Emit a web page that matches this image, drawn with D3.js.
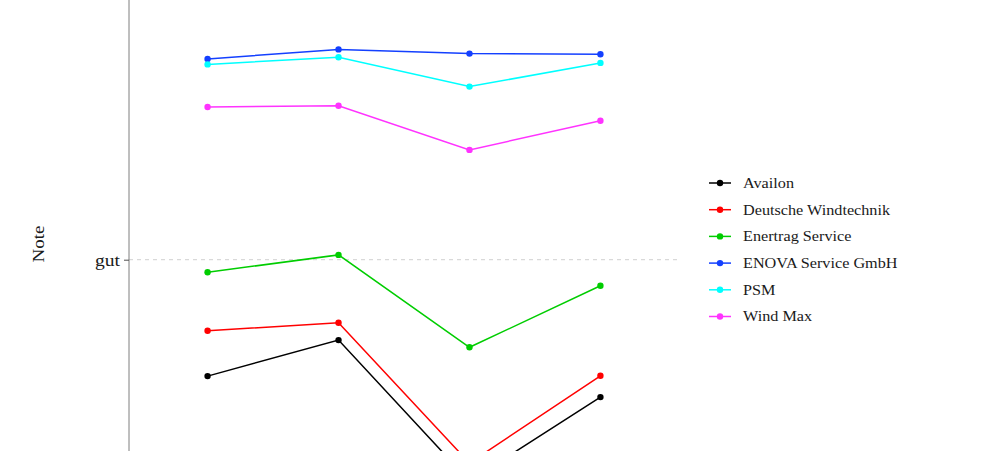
<!DOCTYPE html>
<html>
<head>
<meta charset="utf-8">
<script src="https://cdn.jsdelivr.net/npm/d3@7"></script>
<style>
  body { margin: 0; background: #fff; }
  svg { display: block; font-family: 'Liberation Serif', serif; }
</style>
</head>
<body>
<svg id="chart" width="988" height="451"></svg>
<script>
// Grades (2 = gut), lower is better
const rounds = ['Runde 1', 'Runde 2', 'Runde 3', 'Runde 4'];
const companies = ['Availon', 'Deutsche Windtechnik', 'Enertrag Service', 'ENOVA Service GmbH', 'PSM', 'Wind Max'];
const colors = ['#000000', '#FF0000', '#00CD00', '#1440FF', '#00FFFF', '#FF33FF'];
const gradeTicks = [2];
const gradeLabels = ['gut'];

const availon = [2.388, 2.268, 2.738, 2.458];
const deutscheWindtechnik = [2.237, 2.21, 2.678, 2.387];
const enertrag = [2.042, 1.984, 2.292, 2.087];
const enova = [1.331, 1.299, 1.313, 1.315];
const psm = [1.349, 1.325, 1.423, 1.344];
const windMax = [1.491, 1.487, 1.634, 1.537];

const seriesValues = [availon, deutscheWindtechnik, enertrag, enova, psm, windMax];

const svg = d3.select('#chart');

const x = d3.scalePoint().domain(rounds).range([129, 679]).padding(0.6);
const y = d3.scaleLinear().domain([1, 2]).range([-40.3, 259.7]);

// dashed grid line
svg.append('g')
  .selectAll('line')
  .data(gradeTicks)
  .join('line')
  .attr('x1', 129)
  .attr('x2', 679)
  .attr('y1', (d) => y(d))
  .attr('y2', (d) => y(d))
  .attr('stroke', '#d0d0d0')
  .attr('stroke-width', 1)
  .attr('stroke-dasharray', '4,4');

// y axis
const yAxis = d3.axisLeft(y)
  .tickValues(gradeTicks)
  .tickFormat((d, i) => gradeLabels[i])
  .tickSize(5)
  .tickSizeOuter(0);

const gy = svg.append('g').attr('transform', 'translate(129,0)').call(yAxis);
gy.select('.domain').attr('stroke', '#7f7f7f').attr('d', 'M0,-10V470');
gy.selectAll('.tick line').attr('stroke', '#4d4d4d');
gy.selectAll('.tick text')
  .attr('font-family', 'Liberation Serif, serif')
  .attr('font-size', 17)
  .attr('fill', '#1a1a1a')
  .attr('x', -9)
  .attr('textLength', 25)
  .attr('lengthAdjust', 'spacingAndGlyphs');

svg.append('text')
  .attr('transform', 'translate(44,244) rotate(-90)')
  .attr('text-anchor', 'middle')
  .attr('font-size', 17)
  .attr('fill', '#1a1a1a')
  .attr('textLength', 37)
  .attr('lengthAdjust', 'spacingAndGlyphs')
  .text('Note');

// lines and points
const line = d3.line().x((d, i) => x(rounds[i])).y((d) => y(d));

const groups = svg.append('g')
  .selectAll('g')
  .data(seriesValues)
  .join('g');

groups.append('path')
  .attr('d', (d) => line(d))
  .attr('fill', 'none')
  .attr('stroke', (d, i) => colors[i])
  .attr('stroke-width', 1.5);

groups.each(function (vals, i) {
  d3.select(this)
    .selectAll('circle')
    .data(vals)
    .join('circle')
    .attr('cx', (d, j) => x(rounds[j]))
    .attr('cy', (d) => y(d))
    .attr('r', 3.2)
    .attr('fill', colors[i]);
});

// legend
const legendY = d3.scalePoint().domain(companies).range([183, 316.5]);
const legend = svg.append('g')
  .selectAll('g')
  .data(companies)
  .join('g')
  .attr('transform', (d) => `translate(0,${legendY(d)})`);

legend.append('line')
  .attr('x1', 709).attr('x2', 731)
  .attr('stroke', (d, i) => colors[i])
  .attr('stroke-width', 1.5);
legend.append('circle')
  .attr('cx', 720).attr('r', 3.2)
  .attr('fill', (d, i) => colors[i]);
legend.append('text')
  .attr('x', 743)
  .attr('dy', '0.33em')
  .attr('font-size', 15)
  .attr('fill', '#1a1a1a')
  .text((d) => d)
  .each(function () {
    // Computer Modern runs wider than Times; stretch to match
    const w = this.getComputedTextLength();
    d3.select(this).attr('textLength', w * 1.08).attr('lengthAdjust', 'spacingAndGlyphs');
  });
</script>
</body>
</html>
